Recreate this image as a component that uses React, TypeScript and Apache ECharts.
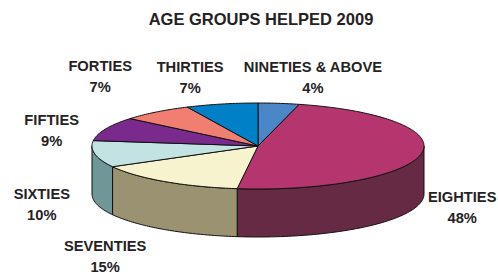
import React, { useEffect, useRef } from "react";
import * as echarts from "echarts";

const TITLE = "AGE GROUPS HELPED 2009";
const CATEGORIES = ["NINETIES & ABOVE", "EIGHTIES", "SEVENTIES", "SIXTIES", "FIFTIES", "FORTIES", "THIRTIES"];
const PERCENTS = [4, 48, 15, 10, 9, 7, 7];
const TOP_COLORS = ["#4b86c6", "#b5366f", "#f7f3cf", "#c3e3e2", "#7a2a8c", "#f07f72", "#0080c6"];
const SIDE_COLORS = ["#3a6aa0", "#662a45", "#9a9270", "#6f9797", "#5a1f68", "#b86050", "#005f95"];

// layout (pixels)
const CX = 258;
const CY = 146;
const RX = 166;
const RY = 43;
const DEPTH = 48;
const LABEL_RX = 215;
const LABEL_RY = 75;
const LABEL_NUDGE: [number, number][] = [
  [28, 6],
  [-7, -1],
  [-32, 0],
  [-5, -4],
  [-9, 14],
  [-26, -10],
  [-21, 5],
];

const TEXT_COLOR = "#262223";
const FONT_FAMILY = '"Liberation Sans", Arial, sans-serif';

function pt(deg: number, dy = 0): [number, number] {
  const r = (deg * Math.PI) / 180;
  return [CX + RX * Math.sin(r), CY - RY * Math.cos(r) + dy];
}

export default function App() {
  const ref = useRef<HTMLDivElement>(null);
  useEffect(() => {
    if (!ref.current) return;
    const chart = echarts.init(ref.current, undefined, { renderer: "svg" });
    const total = PERCENTS.reduce((a, b) => a + b, 0);
    let acc = 0;
    const slices = PERCENTS.map((p, i) => {
      const s = (acc / total) * 360;
      acc += p;
      const e = (acc / total) * 360;
      return [s, e, i, p];
    });

    const sideItem = (params: any, api: any) => {
      const s = api.value(0) as number;
      const e = api.value(1) as number;
      const i = params.dataIndex;
      const a = Math.max(s, 90);
      const b = Math.min(e, 270);
      if (b <= a) return { type: "group", children: [] };
      const top: [number, number][] = [];
      const bot: [number, number][] = [];
      const n = Math.max(2, Math.ceil(b - a));
      for (let k = 0; k <= n; k++) {
        const d = a + ((b - a) * k) / n;
        top.push(pt(d));
        bot.push(pt(d, DEPTH));
      }
      return {
        type: "polygon",
        shape: { points: top.concat(bot.reverse()) },
        style: { fill: SIDE_COLORS[i], stroke: "#111", lineWidth: 1, lineJoin: "round" },
      };
    };

    const topItem = (params: any, api: any) => {
      const s = api.value(0) as number;
      const e = api.value(1) as number;
      const i = params.dataIndex;
      const pts: [number, number][] = [[CX, CY]];
      const n = Math.max(2, Math.ceil(e - s));
      for (let k = 0; k <= n; k++) pts.push(pt(s + ((e - s) * k) / n));
      const mid = ((s + e) / 2) * (Math.PI / 180);
      const front = Math.cos(mid) < 0;
      const lx = CX + LABEL_RX * Math.sin(mid) + LABEL_NUDGE[i][0];
      const ly = CY - LABEL_RY * Math.cos(mid) + (front ? DEPTH : 0) + LABEL_NUDGE[i][1];
      return {
        type: "group",
        children: [
          {
            type: "polygon",
            shape: { points: pts },
            style: { fill: TOP_COLORS[i], stroke: "#111", lineWidth: 1, lineJoin: "round" },
          },
          {
            type: "text",
            x: lx,
            y: ly,
            style: {
              text: CATEGORIES[i] + "\n" + api.value(3) + "%",
              fill: TEXT_COLOR,
              font: `bold 14.7px ${FONT_FAMILY}`,
              align: "center",
              verticalAlign: "middle",
              lineHeight: 21,
            },
          },
        ],
      };
    };

    chart.setOption({
      animation: false,
      backgroundColor: "#ffffff",
      title: {
        text: TITLE,
        left: 256,
        top: 5,
        textAlign: "center",
        textStyle: { fontFamily: FONT_FAMILY, fontWeight: "bold", fontSize: 16.5, color: TEXT_COLOR },
      },
      series: [
        { type: "custom", coordinateSystem: "none", renderItem: sideItem, data: slices, silent: true },
        { type: "custom", coordinateSystem: "none", renderItem: topItem, data: slices, silent: true },
      ],
    });
    return () => chart.dispose();
  }, []);
  return (
    <div
      ref={ref}
      style={{ position: "absolute", left: 0, top: 0, width: 498, height: 275 }}
    />
  );
}
